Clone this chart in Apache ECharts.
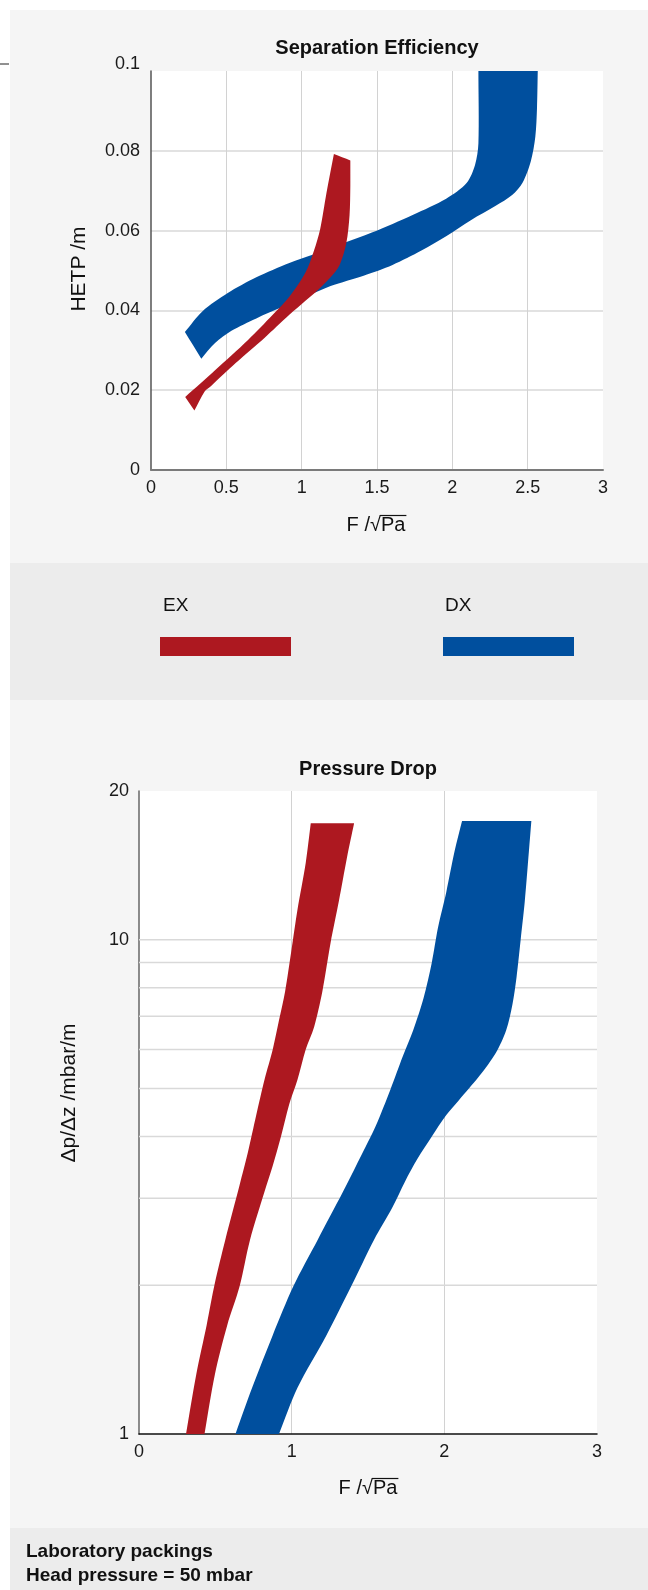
<!DOCTYPE html>
<html>
<head>
<meta charset="utf-8">
<script src="https://cdn.jsdelivr.net/npm/echarts@6/dist/echarts.min.js"></script>
<style>
  html, body { margin: 0; padding: 0; background: #fff; }
  .panel { position: absolute; left: 10px; width: 638px; }
  #chart { position: absolute; left: 0; top: 0; width: 648px; height: 1590px; }
</style>
</head>
<body>
<div class="panel" style="top:10px;height:553px;background:#f5f5f5"></div>
<div class="panel" style="top:563px;height:137px;background:#ececec"></div>
<div class="panel" style="top:700px;height:828px;background:#f5f5f5"></div>
<div class="panel" style="top:1528px;height:62px;background:#ececec"></div>
<div id="chart"></div>
<script>
const FONT = '"Liberation Sans", Arial, Helvetica, sans-serif';
const RED = "#ad1820";
const BLUE = "#004f9e";

// axis ticks
const sepXTicks = [0, 0.5, 1, 1.5, 2, 2.5, 3];
const sepYTicks = [0, 0.02, 0.04, 0.06, 0.08, 0.1];
const dropXTicks = [0, 1, 2, 3];
const dropYLabels = [1, 10, 20];
const dropGridLines = [2, 3, 4, 5, 6, 7, 8, 9, 10];

// separation efficiency, EX band (upper/left edge, lower/right edge)
const sepExUpperF = [0.227, 0.425, 0.644, 0.808, 0.918, 1.027, 1.082, 1.123, 1.164, 1.214];
const sepExUpperH = [0.0183, 0.025, 0.0326, 0.0389, 0.0434, 0.0496, 0.055, 0.0604, 0.0693, 0.0792];
const sepExLowerF = [0.288, 0.356, 0.397, 0.562, 0.753, 0.918, 1.027, 1.11, 1.192, 1.252, 1.296, 1.318, 1.323, 1.323];
const sepExLowerH = [0.0149, 0.0197, 0.021, 0.0268, 0.0331, 0.0389, 0.0425, 0.0452, 0.0483, 0.0514, 0.0568, 0.064, 0.0711, 0.0776];

// separation efficiency, DX band
const sepDxUpperF = [0.225, 0.342, 0.507, 0.699, 0.918, 1.082, 1.274, 1.466, 1.74, 1.959, 2.096, 2.151, 2.173, 2.173];
const sepDxUpperH = [0.0346, 0.0398, 0.0443, 0.0483, 0.0519, 0.0541, 0.0568, 0.0595, 0.064, 0.068, 0.072, 0.0765, 0.0818, 0.1];
const sepDxLowerF = [0.334, 0.425, 0.534, 0.699, 0.863, 1.027, 1.192, 1.411, 1.603, 1.795, 1.959, 2.123, 2.288, 2.397, 2.466, 2.521, 2.551, 2.562, 2.567];
const sepDxLowerH = [0.0279, 0.0318, 0.0349, 0.038, 0.0407, 0.0434, 0.0461, 0.0487, 0.0514, 0.055, 0.0586, 0.0626, 0.0662, 0.0689, 0.072, 0.0774, 0.0836, 0.0908, 0.1];

// pressure drop, EX band (left edge, right edge)
const dropExLeftF = [0.308, 0.375, 0.443, 0.497, 0.565, 0.659, 0.713, 0.768, 0.822, 0.876, 0.917, 0.957, 0.998, 1.038, 1.092, 1.125];
const dropExLeftP = [1, 1.32, 1.66, 2.02, 2.47, 3.19, 3.71, 4.42, 5.21, 6.0, 6.87, 7.86, 9.5, 11.5, 14.3, 17.2];
const dropExRightF = [0.429, 0.497, 0.578, 0.659, 0.727, 0.822, 0.876, 0.93, 0.984, 1.038, 1.092, 1.147, 1.201, 1.255, 1.309, 1.363, 1.409];
const dropExRightP = [1, 1.32, 1.66, 1.99, 2.47, 3.09, 3.49, 4.0, 4.65, 5.21, 6.0, 6.66, 7.86, 9.86, 11.96, 14.7, 17.2];

// pressure drop, DX band
const dropDxLeftF = [0.632, 0.741, 0.876, 1.011, 1.17, 1.336, 1.444, 1.552, 1.647, 1.728, 1.796, 1.864, 1.918, 1.959, 2.013, 2.067, 2.116];
const dropDxLeftP = [1, 1.24, 1.585, 1.99, 2.47, 3.09, 3.6, 4.21, 4.98, 5.81, 6.56, 7.62, 9.0, 10.6, 12.5, 15.1, 17.4];
const dropDxRightF = [0.917, 1.038, 1.228, 1.39, 1.539, 1.661, 1.742, 1.823, 1.918, 2.013, 2.094, 2.229, 2.338, 2.405, 2.446, 2.473, 2.5, 2.527, 2.554, 2.57];
const dropDxRightP = [1, 1.24, 1.585, 1.99, 2.47, 2.88, 3.24, 3.6, 4.0, 4.42, 4.73, 5.3, 5.91, 6.56, 7.4, 8.4, 10.0, 11.96, 15.1, 17.4];

const measureCtx = document.createElement("canvas").getContext("2d");
function textWidth(text, font) {
  measureCtx.font = font;
  return measureCtx.measureText(text).width;
}

// one filled ribbon: edge A forward, edge B backward.
// end points are doubled so the smoothing keeps the cut ends sharp
function band(name, gridIndex, aF, aV, bF, bV, color, z) {
  const edgeA = aF.map((f, i) => [f, aV[i]]);
  const edgeB = bF.map((f, i) => [f, bV[i]]).reverse();
  const pts = edgeA.concat(edgeB);
  return {
    name: name,
    type: "custom",
    xAxisIndex: gridIndex,
    yAxisIndex: gridIndex,
    z: z,
    silent: true,
    clip: true,
    data: pts,
    renderItem: (params, api) => {
      if (params.dataIndex !== 0) return null;
      const ring = [];
      const push = (list) => {
        list.forEach((p, i) => {
          const c = api.coord(p);
          ring.push(c);
          if (i === 0 || i === list.length - 1) ring.push(c.slice());
        });
      };
      push(edgeA);
      push(edgeB);
      return {
        type: "polygon",
        shape: { points: ring, smooth: 0.3 },
        style: { fill: color }
      };
    }
  };
}

function text(x, y, str, font, align, opts) {
  const a = align || "center";
  return Object.assign(
    {
      type: "text",
      x: x,
      y: y,
      style: {
        text: str,
        font: font,
        fill: "#111",
        align: a,
        textAlign: a,
        verticalAlign: "middle",
        textVerticalAlign: "middle"
      }
    },
    opts || {}
  );
}

// "F /√Pa" with the bar over Pa
function sqrtName(cx, cy) {
  const font = "20px " + FONT;
  const a = "F /√";
  const b = "Pa";
  const wa = textWidth(a, font);
  const wb = textWidth(b, font);
  const x0 = cx - (wa + wb) / 2;
  return [
    text(x0, cy, a, font, "left"),
    text(x0 + wa, cy, b, font, "left"),
    { type: "line", shape: { x1: x0 + wa - 1, y1: cy - 9.5, x2: x0 + wa + wb + 1, y2: cy - 9.5 }, style: { stroke: "#111", lineWidth: 1.2 } }
  ];
}

const labelStyle = { fontSize: 18, fontFamily: FONT, color: "#1a1a1a" };

const option = {
  animation: false,
  grid: [
    { left: 151, top: 71, width: 452, height: 399, show: true, backgroundColor: "#fff", borderWidth: 0 },
    { left: 139, top: 791, width: 458, height: 643, show: true, backgroundColor: "#fff", borderWidth: 0 }
  ],
  xAxis: [
    {
      gridIndex: 0,
      type: "value",
      min: sepXTicks[0],
      max: sepXTicks[sepXTicks.length - 1],
      interval: sepXTicks[1] - sepXTicks[0],
      axisLine: { lineStyle: { color: "#7a7a7a", width: 2 } },
      axisTick: { show: false },
      axisLabel: Object.assign({ margin: 9 }, labelStyle),
      splitLine: { show: true, showMinLine: false, showMaxLine: false, lineStyle: { color: "#d2d2d2", width: 1 } }
    },
    {
      gridIndex: 1,
      type: "value",
      min: dropXTicks[0],
      max: dropXTicks[dropXTicks.length - 1],
      interval: dropXTicks[1] - dropXTicks[0],
      axisLine: { lineStyle: { color: "#111", width: 1.5 } },
      axisTick: { show: false },
      axisLabel: Object.assign({ margin: 9 }, labelStyle),
      splitLine: { show: true, showMinLine: false, showMaxLine: false, lineStyle: { color: "#d2d2d2", width: 1 } }
    }
  ],
  yAxis: [
    {
      gridIndex: 0,
      type: "value",
      min: sepYTicks[0],
      max: sepYTicks[sepYTicks.length - 1],
      interval: sepYTicks[1] - sepYTicks[0],
      axisLine: { show: true, lineStyle: { color: "#555", width: 1.5 } },
      axisTick: { show: false },
      axisLabel: Object.assign(
        {
          margin: 11,
          formatter: v => {
            const s = String(+v.toFixed(2));
            return Math.abs(v - 0.1) < 1e-9 ? "{top|" + s + "}" : s;
          },
          rich: { top: { fontSize: 18, fontFamily: FONT, color: "#1a1a1a", padding: [0, 0, 14, 0] } }
        },
        labelStyle
      ),
      splitLine: { show: true, showMinLine: false, showMaxLine: false, lineStyle: { color: "#d9d9d9", width: 1.5 } }
    },
    {
      gridIndex: 1,
      type: "log",
      logBase: 10,
      min: dropYLabels[0],
      max: dropYLabels[dropYLabels.length - 1],
      axisLine: { show: true, lineStyle: { color: "#666", width: 1.5 } },
      axisTick: { show: false },
      axisLabel: Object.assign({ margin: 10, customValues: dropYLabels }, labelStyle),
      splitLine: { show: false }
    }
  ],
  series: [
    {
      name: "grid",
      type: "custom",
      xAxisIndex: 1,
      yAxisIndex: 1,
      z: 1,
      silent: true,
      data: dropGridLines,
      renderItem: (params, api) => {
        const v = api.value(0);
        const p0 = api.coord([dropXTicks[0], v]);
        const p1 = api.coord([dropXTicks[dropXTicks.length - 1], v]);
        return {
          type: "line",
          shape: { x1: p0[0], y1: p0[1], x2: p1[0], y2: p1[1] },
          style: { stroke: "#d9d9d9", lineWidth: 1.5 }
        };
      }
    },
    band("DX", 0, sepDxUpperF, sepDxUpperH, sepDxLowerF, sepDxLowerH, BLUE, 2),
    band("EX", 0, sepExUpperF, sepExUpperH, sepExLowerF, sepExLowerH, RED, 3),
    band("DX", 1, dropDxLeftF, dropDxLeftP, dropDxRightF, dropDxRightP, BLUE, 2),
    band("EX", 1, dropExLeftF, dropExLeftP, dropExRightF, dropExRightP, RED, 3)
  ],
  graphic: [
    { type: "line", shape: { x1: 0, y1: 64, x2: 9, y2: 64 }, style: { stroke: "#222", lineWidth: 1 } },
    text(377, 48, "Separation Efficiency", "bold 20px " + FONT),
    text(79, 269, "HETP /m", "21px " + FONT, "center", { rotation: Math.PI / 2 }),
    ...sqrtName(376, 525),
    // legend
    text(163, 606, "EX", "19px " + FONT, "left"),
    { type: "rect", shape: { x: 160, y: 637, width: 131, height: 19 }, style: { fill: RED } },
    text(445, 606, "DX", "19px " + FONT, "left"),
    { type: "rect", shape: { x: 443, y: 637, width: 131, height: 19 }, style: { fill: BLUE } },
    text(368, 769, "Pressure Drop", "bold 20px " + FONT),
    text(69, 1093, "Δp/Δz /mbar/m", "21px " + FONT, "center", { rotation: Math.PI / 2 }),
    ...sqrtName(368, 1488),
    text(26, 1552, "Laboratory packings", "bold 19px " + FONT, "left"),
    text(26, 1576, "Head pressure = 50 mbar", "bold 19px " + FONT, "left")
  ]
};

const chart = echarts.init(document.getElementById("chart"), null, { renderer: "canvas" });
chart.setOption(option);
</script>
</body>
</html>
